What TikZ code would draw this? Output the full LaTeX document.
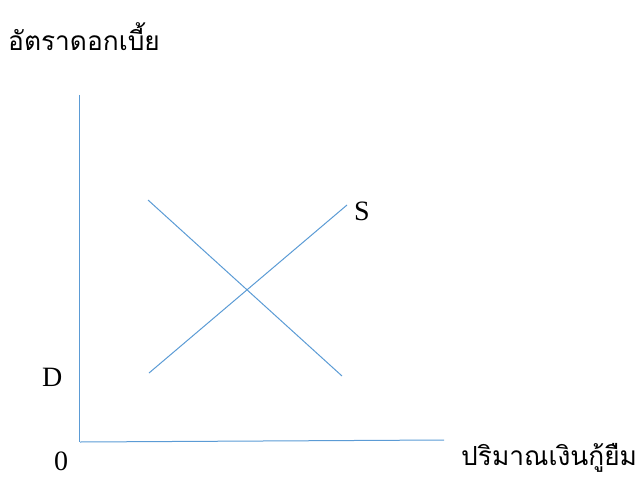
\documentclass[tikz,border=0pt]{standalone}
\usepackage{fontspec}
\setmainfont{Liberation Serif}
\newfontfamily\thaifont[Script=Thai]{Loma}
\definecolor{lineblue}{RGB}{91,155,213}
\tikzset{
  ax/.style={draw=lineblue, line width=1pt},
  curve/.style={draw=lineblue, line width=1pt},
  lab/.style={font=\fontsize{28}{32}\selectfont, inner sep=0pt},
  thlab/.style={font=\thaifont\fontsize{26.3}{32}\selectfont, inner sep=0pt}
}
\begin{document}
\begin{tikzpicture}[x=1pt,y=-1pt]
\useasboundingbox (0,0) rectangle (639,476);
\coordinate (ytop) at (79,95);
\coordinate (orig) at (79,442);
\coordinate (xend) at (444,440);
\coordinate (d1) at (148,200);
\coordinate (d2) at (342,376);
\coordinate (s1) at (149,373);
\coordinate (s2) at (347,205);
\draw[ax] (ytop) -- (orig);
\draw[ax] ([xshift=1pt]orig) -- (xend);
\draw[curve] (d1) -- (d2);
\draw[curve] (s1) -- (s2);
\node[lab, anchor=base west] (slab) at (354,220) {S};
\node[lab, anchor=base west] (dlab) at (42,386) {D};
\node[lab, anchor=base west] (zlab) at (54,470) {0};
\node[thlab, anchor=base west] (title) at (8,51) {อัตราดอกเบี้ย};
\node[thlab, anchor=base west] (xlab) at (461,465) {ปริมาณเงินกู้ยืม};
\end{tikzpicture}
\end{document}
